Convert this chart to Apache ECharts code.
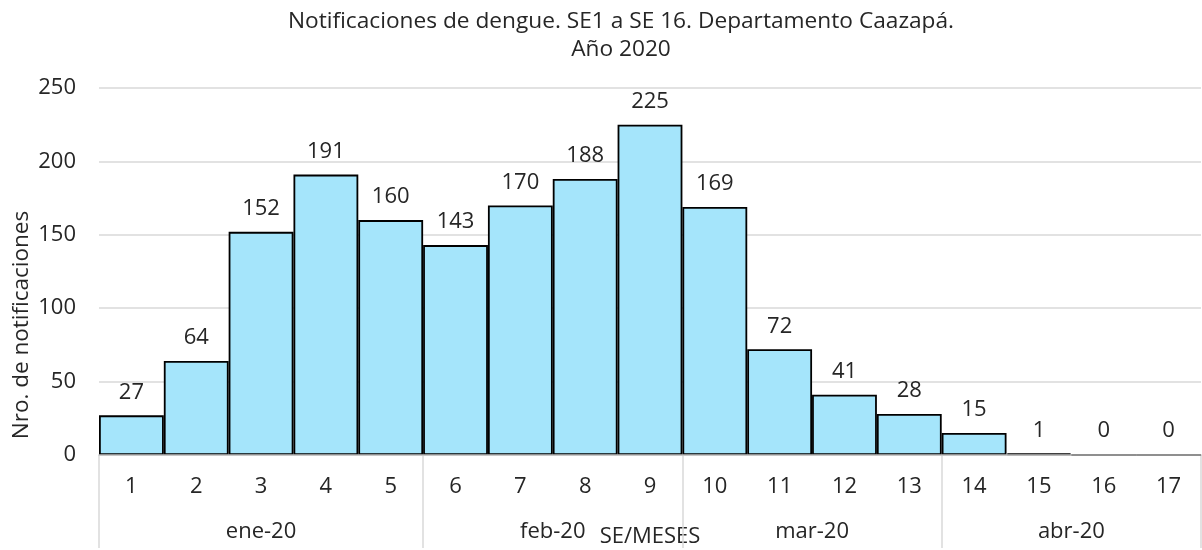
<!DOCTYPE html>
<html>
<head>
<meta charset="utf-8">
<script src="https://cdn.jsdelivr.net/npm/echarts@6/dist/echarts.min.js"></script>
<style>html,body{margin:0;padding:0;background:#fff}#c{width:1202px;height:550px}</style>
</head>
<body>
<div id="c"></div>
<script>
const titleText = 'Notificaciones de dengue. SE1 a SE 16. Departamento Caazapá.\nAño 2020';
const weeks = ['1','2','3','4','5','6','7','8','9','10','11','12','13','14','15','16','17'];
const notifications = [27,64,152,191,160,143,170,188,225,169,72,41,28,15,1,0,0];
const months = ['ene-20','feb-20','mar-20','abr-20'];
const monthStarts = [0,5,9,13,17];
const yTicks = [0,50,100,150,200,250];

const FONT = 'Open Sans';
const TXT = '#262626';
const FS = 22;
const monthMid = months.map((m,i)=> (monthStarts[i]+monthStarts[i+1])/2);

const chart = echarts.init(document.getElementById('c'));
chart.setOption({
  animation:false,
  textStyle:{fontFamily:FONT},
  title:{
    text:titleText, left:616, top:2, textAlign:'center',
    textStyle:{fontFamily:FONT,fontSize:22.7,fontWeight:'normal',color:TXT,lineHeight:28.5,align:'center'}
  },
  grid:{left:99,right:1,top:88,bottom:95,containLabel:false,outerBoundsMode:'none'},
  xAxis:[{
    type:'category', data:weeks, gridIndex:0, position:'bottom',
    axisLine:{lineStyle:{color:'#bfbfbf',width:1.5}},
    axisTick:{show:false},
    axisLabel:{fontSize:FS,color:TXT,margin:21,fontFamily:FONT},
    z:5
  },{
    type:'value', gridIndex:0, position:'bottom', min:0, max:17,
    axisLine:{show:false}, splitLine:{show:false},
    axisTick:{show:true, customValues:monthStarts, length:93, lineStyle:{color:'#d9d9d9',width:1.5}},
    axisLabel:{show:true, customValues:monthMid, margin:66, fontSize:FS, color:TXT, fontFamily:FONT,
      formatter:(v)=>{const i=monthMid.indexOf(v);return i>=0?months[i]:'';}},
    name:'SE/MESES', nameLocation:'middle', nameGap:71, nameMoveOverlap:false,
    nameTextStyle:{fontSize:FS,color:TXT,fontFamily:FONT}
  }],
  yAxis:{
    type:'value', min:0, max:250, interval:50,
    axisLine:{show:false}, axisTick:{show:false},
    splitLine:{lineStyle:{color:'#d9d9d9',width:1.5}},
    axisLabel:{fontSize:FS,color:TXT,margin:23,fontFamily:FONT,
      customValues:yTicks},
    name:'Nro. de notificaciones', nameLocation:'middle', nameRotate:90, nameGap:66, nameMoveOverlap:false,
    nameTextStyle:{fontSize:22.5,color:TXT,fontFamily:FONT,padding:[0,107,0,0]}
  },
  series:[{
    type:'bar', data:notifications, xAxisIndex:0, barCategoryGap:'0%',
    itemStyle:{color:'#a5e5fb',borderColor:'#000',borderWidth:1.8},
    label:{show:true,position:'top',distance:12,fontSize:FS,color:TXT,fontFamily:FONT},
    z:3
  }]
});
</script>
</body>
</html>
